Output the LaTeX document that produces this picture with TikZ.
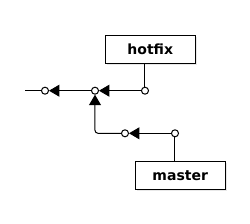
\documentclass[tikz,border=0pt]{standalone}
\usepackage{fontspec}
\setmainfont{DejaVu Sans}
\usetikzlibrary{arrows.meta,shadows}
\begin{document}
\begin{tikzpicture}[x=1pt,y=-1pt,
  commit/.style={circle,draw,fill=white,line width=1pt,minimum size=7pt,inner sep=0pt},
  branch/.style={rectangle,draw,fill=white,line width=1pt,minimum width=90pt,minimum height=28pt,inner sep=0pt,
    font=\bfseries\fontsize{14}{16}\selectfont,
    drop shadow={shadow xshift=2pt,shadow yshift=-2pt,fill=black!15,opacity=0.6}},
  link/.style={line width=1pt},
  parent/.style={line width=1pt,-{Triangle[length=10.5pt,width=12pt]}}]
\useasboundingbox (0,0) rectangle (250,224);
\node[branch] (hotfix) at (150.3,49.3) {hotfix};
\node[branch] (master) at (180.2,175.2) {master};
\coordinate (tail) at (25,90.7);
\node[commit] (c1) at (45,90.7) {};
\node[commit] (c2) at (95,90.7) {};
\node[commit] (c3) at (145,90.7) {};
\node[commit] (d1) at (125,133.3) {};
\node[commit] (d2) at (175,133.3) {};
\draw[link] (c1) -- (tail);
\draw[parent] (c2) -- (c1);
\draw[parent] (c3) -- (c2);
\draw[parent] (d2) -- (d1);
\draw[parent,rounded corners=3pt] (d1) -| (c2);
\draw[link] (hotfix.south -| c3) -- (c3);
\draw[link] (d2) -- (d2 |- master.north);
\end{tikzpicture}
\end{document}
